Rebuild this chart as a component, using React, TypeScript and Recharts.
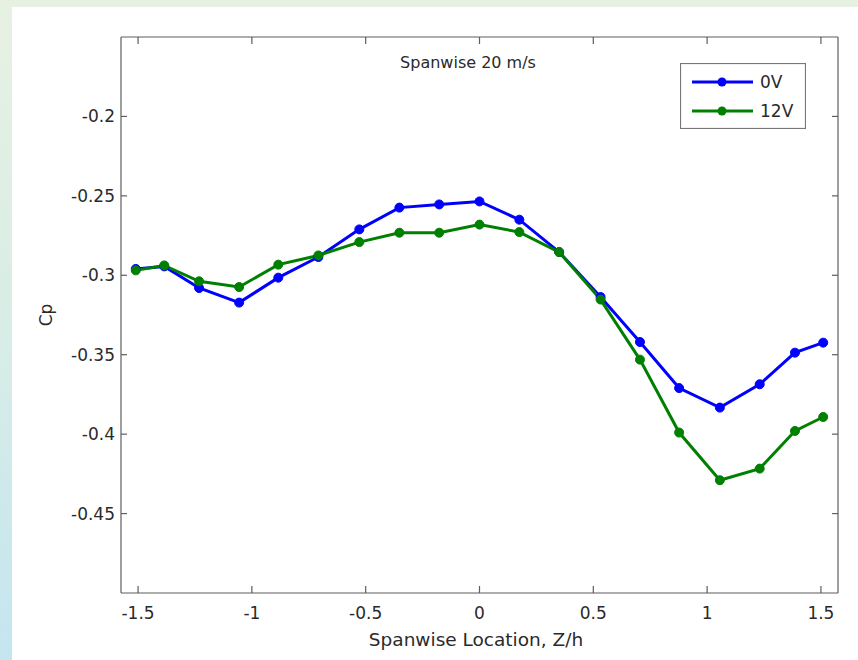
import React from 'react';
import { LineChart, Line, XAxis, YAxis, Legend, Label } from 'recharts';

// spanwise positions (Z/h) and pressure coefficients
const spanX = [-1.51, -1.385, -1.232, -1.056, -0.884, -0.708, -0.528, -0.352, -0.177, 0, 0.175, 0.35, 0.532, 0.705, 0.877, 1.056, 1.231, 1.386, 1.51];
const cp0V = [-0.296, -0.2944, -0.308, -0.3172, -0.3015, -0.2885, -0.2711, -0.2574, -0.2554, -0.2535, -0.265, -0.2854, -0.3137, -0.342, -0.371, -0.3833, -0.3686, -0.3487, -0.3424];
const cp12V = [-0.2969, -0.2938, -0.3038, -0.3074, -0.2933, -0.2875, -0.2791, -0.2732, -0.2732, -0.2681, -0.2728, -0.2854, -0.3153, -0.3531, -0.399, -0.429, -0.4217, -0.398, -0.3892];

const xTicks = [-1.5, -1, -0.5, 0, 0.5, 1, 1.5];
const yTicks = [-0.45, -0.4, -0.35, -0.3, -0.25, -0.2];

const data = spanX.map((x, i) => ({ x, v0: cp0V[i], v12: cp12V[i] }));

const FONT = '"DejaVu Sans", sans-serif';
const AXIS = '#5e5e5e';
const TEXT = '#2a2a2a';
const BLUE = '#0000ff';
const GREEN = '#008000';

const BottomTick = ({ x, y, payload }: any) => (
  <g>
    <line x1={x} x2={x} y1={y} y2={y - 7} stroke={AXIS} strokeWidth={1.2} />
    <text x={x} y={y + 26} textAnchor="middle" fontSize={17} fill={TEXT} fontFamily={FONT}>
      {payload.value}
    </text>
  </g>
);

const LeftTick = ({ x, y, payload }: any) => (
  <g>
    <line x1={x} x2={x + 6} y1={y} y2={y} stroke={AXIS} strokeWidth={1.2} />
    <text x={x - 6} y={y + 6} textAnchor="end" fontSize={17} fill={TEXT} fontFamily={FONT}>
      {payload.value}
    </text>
  </g>
);

const TopTick = ({ x, y }: any) => (
  <line x1={x} x2={x} y1={y} y2={y + 7} stroke={AXIS} strokeWidth={1.2} />
);

const RightTick = ({ x, y }: any) => (
  <line x1={x} x2={x - 6} y1={y} y2={y} stroke={AXIS} strokeWidth={1.2} />
);

const renderLegend = (props: any) => {
  const items = props.payload || [];
  return (
    <svg width={126} height={66}>
      <rect x={0.5} y={0.5} width={125} height={65} fill="#fff" stroke="#777" strokeWidth={1.2} />
      {items.map((it: any, i: number) => {
        const y = 19 + i * 29;
        return (
          <g key={it.value}>
            <line x1={12} x2={73} y1={y} y2={y} stroke={it.color} strokeWidth={3} />
            <circle cx={42} cy={y} r={4.5} fill={it.color} />
            <text x={80} y={y + 6} fontSize={17} fill={TEXT} fontFamily={FONT}>
              {it.value}
            </text>
          </g>
        );
      })}
    </svg>
  );
};

export default function App() {
  return (
    <div
      style={{
        position: 'absolute',
        left: 0,
        top: 0,
        width: 858,
        height: 660,
        overflow: 'hidden',
        background: 'linear-gradient(180deg, #e7f1e2 0%, #d8ede6 50%, #c4e5f0 100%)',
      }}
    >
      <div style={{ position: 'absolute', left: 12, top: 7, right: 0, bottom: 0, background: '#fff' }} />
      <div style={{ position: 'absolute', left: 0, top: 0 }}>
        <LineChart width={858} height={660} data={data} margin={{ top: 0, right: 0, bottom: 0, left: 0 }}>
          <XAxis
            dataKey="x"
            type="number"
            domain={[-1.575, 1.575]}
            ticks={xTicks}
            interval={0}
            allowDataOverflow
            height={67}
            tickSize={0}
            tickMargin={0}
            tickLine={false}
            axisLine={{ stroke: AXIS, strokeWidth: 1.2 }}
            tick={<BottomTick />}
          >
            <Label
              content={() => (
                <text x={476} y={646} textAnchor="middle" fontSize={18.5} fill={TEXT} fontFamily={FONT}>
                  Spanwise Location, Z/h
                </text>
              )}
            />
          </XAxis>
          <XAxis
            xAxisId="top"
            orientation="top"
            dataKey="x"
            type="number"
            domain={[-1.575, 1.575]}
            ticks={xTicks}
            interval={0}
            allowDataOverflow
            height={37}
            tickSize={0}
            tickMargin={0}
            tickLine={false}
            axisLine={{ stroke: AXIS, strokeWidth: 1.2 }}
            tick={<TopTick />}
          >
            <Label
              content={() => (
                <text x={468} y={68} textAnchor="middle" fontSize={16} fill={TEXT} fontFamily={FONT}>
                  Spanwise 20 m/s
                </text>
              )}
            />
          </XAxis>
          <YAxis
            type="number"
            domain={[-0.5, -0.15]}
            ticks={yTicks}
            interval={0}
            allowDataOverflow
            width={121}
            tickSize={0}
            tickMargin={0}
            tickLine={false}
            axisLine={{ stroke: AXIS, strokeWidth: 1.2 }}
            tick={<LeftTick />}
          >
            <Label
              content={() => (
                <text
                  x={52}
                  y={315}
                  textAnchor="middle"
                  fontSize={17}
                  fill={TEXT}
                  fontFamily={FONT}
                  transform="rotate(-90 52 315)"
                >
                  Cp
                </text>
              )}
            />
          </YAxis>
          <YAxis
            yAxisId="right"
            orientation="right"
            type="number"
            domain={[-0.5, -0.15]}
            ticks={yTicks}
            interval={0}
            allowDataOverflow
            width={20}
            tickSize={0}
            tickMargin={0}
            tickLine={false}
            axisLine={{ stroke: AXIS, strokeWidth: 1.2 }}
            tick={<RightTick />}
          />
          <Legend
            content={renderLegend}
            layout="horizontal"
            align="center"
            verticalAlign="middle"
            wrapperStyle={{ left: 680, top: 63, width: 126, height: 66 }}
          />
          <Line
            type="linear"
            dataKey="v0"
            name="0V"
            stroke={BLUE}
            strokeWidth={3}
            dot={{ r: 4.5, fill: BLUE, stroke: BLUE, strokeWidth: 1 }}
            activeDot={false}
            isAnimationActive={false}
          />
          <Line
            type="linear"
            dataKey="v12"
            name="12V"
            stroke={GREEN}
            strokeWidth={3}
            dot={{ r: 4.5, fill: GREEN, stroke: GREEN, strokeWidth: 1 }}
            activeDot={false}
            isAnimationActive={false}
          />
        </LineChart>
      </div>
    </div>
  );
}
